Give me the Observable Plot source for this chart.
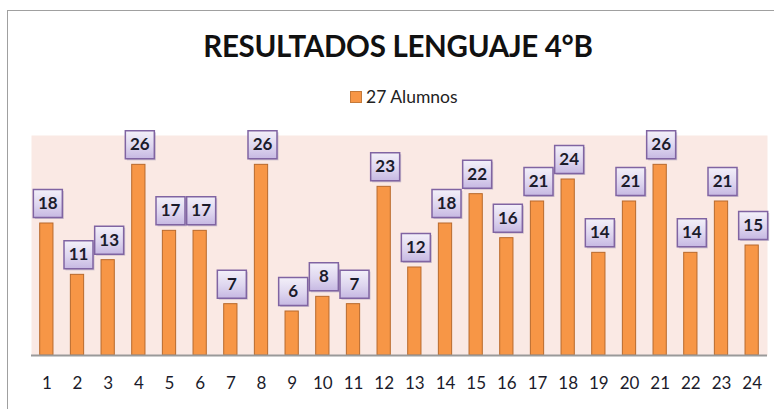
<!DOCTYPE html>
<html>
<head>
<meta charset="utf-8">
<script src="https://cdn.jsdelivr.net/npm/d3@7"></script>
<script src="https://cdn.jsdelivr.net/npm/@observablehq/plot@0.6"></script>
<style>
  html, body { margin: 0; padding: 0; background: #fff; }
  #wrap { position: relative; width: 774px; height: 409px; overflow: hidden; font-family: Lato, "Open Sans", sans-serif; }
  #frame { position: absolute; left: 7px; top: 10px; width: 800px; height: 420px; border-left: 1.5px solid #a0a0a0; border-top: 1.5px solid #a0a0a0; }
  #title { position: absolute; left: 0; top: 28px; width: 796px; text-align: center; font-size: 29.5px; font-weight: 700; color: #111; letter-spacing: -0.3px; }
  #legend { position: absolute; left: 350px; top: 86px; font-size: 17.5px; color: #222; display: flex; align-items: center; }
  #legend .sw { width: 10px; height: 10px; background: #F79646; border: 1px solid #c57a3a; margin-right: 4px; }
  #chart { position: absolute; left: 0; top: 105px; }
</style>
</head>
<body>
<div id="wrap">
  <div id="frame"></div>
  <div id="title">RESULTADOS LENGUAJE 4°B</div>
  <div id="legend"><span class="sw"></span><span>27 Alumnos</span></div>
  <div id="chart"></div>
</div>
<script>
const students = ["1","2","3","4","5","6","7","8","9","10","11","12","13","14","15","16","17","18","19","20","21","22","23","24"];
const scores = [18,11,13,26,17,17,7,26,6,8,7,23,12,18,22,16,21,24,14,21,26,14,21,15];
const seriesName = "27 Alumnos";

const data = students.map((s, i) => ({student: s, value: scores[i]}));

const boxSymbol = {
  draw(context, size) {
    const w = 29, h = 28;
    context.moveTo(-w/2, -h/2);
    context.lineTo(w/2, -h/2);
    context.lineTo(w/2, h/2);
    context.lineTo(-w/2, h/2);
    context.closePath();
  }
};

const plot = Plot.plot({
  width: 774,
  height: 300,
  marginTop: 30,
  marginBottom: 50,
  marginLeft: 31,
  marginRight: 7,
  style: {fontFamily: "Lato, 'Open Sans', sans-serif", background: "transparent"},
  x: {type: "band", domain: students, padding: 0, round: false, label: null},
  y: {domain: [0, 30], axis: null},
  marks: [
    Plot.frame({fill: "#FAE9E4", stroke: null}),
    Plot.barY(data, {x: "student", y: "value", insetLeft: 8.7, insetRight: 8.7, fill: "#F79646", stroke: "#B8692C", strokeWidth: 1}),
    Plot.ruleY([0], {stroke: "#9a9a9a", strokeWidth: 2}),
    Plot.dot(data, {x: "student", y: "value", symbol: boxSymbol, r: 10, dx: 2.5, dy: -18.5, fill: "#9a8fb0", fillOpacity: 0.45, stroke: null}),
    Plot.dot(data, {x: "student", y: "value", symbol: boxSymbol, r: 10, dx: 1, dy: -20, fill: "url(#boxgrad)", stroke: "#8064A2", strokeWidth: 1.5}),
    Plot.text(data, {x: "student", y: "value", text: d => String(d.value), dx: 1, dy: -20, fill: "#1b1b2b", fontSize: 17, fontWeight: 700}),
    Plot.axisX({tickSize: 0, tickPadding: 21, fontSize: 17, fill: "#1b1b2b", label: null})
  ]
});

const svg = d3.select(plot);
const defs = svg.insert("defs", ":first-child");
const g = defs.append("linearGradient").attr("id", "boxgrad").attr("x1", 0).attr("y1", 0).attr("x2", 0).attr("y2", 1);
g.append("stop").attr("offset", "0%").attr("stop-color", "#F3F0F9");
g.append("stop").attr("offset", "55%").attr("stop-color", "#DED6EF");
g.append("stop").attr("offset", "100%").attr("stop-color", "#C6B8E2");

document.getElementById("chart").appendChild(plot);
</script>
</body>
</html>
